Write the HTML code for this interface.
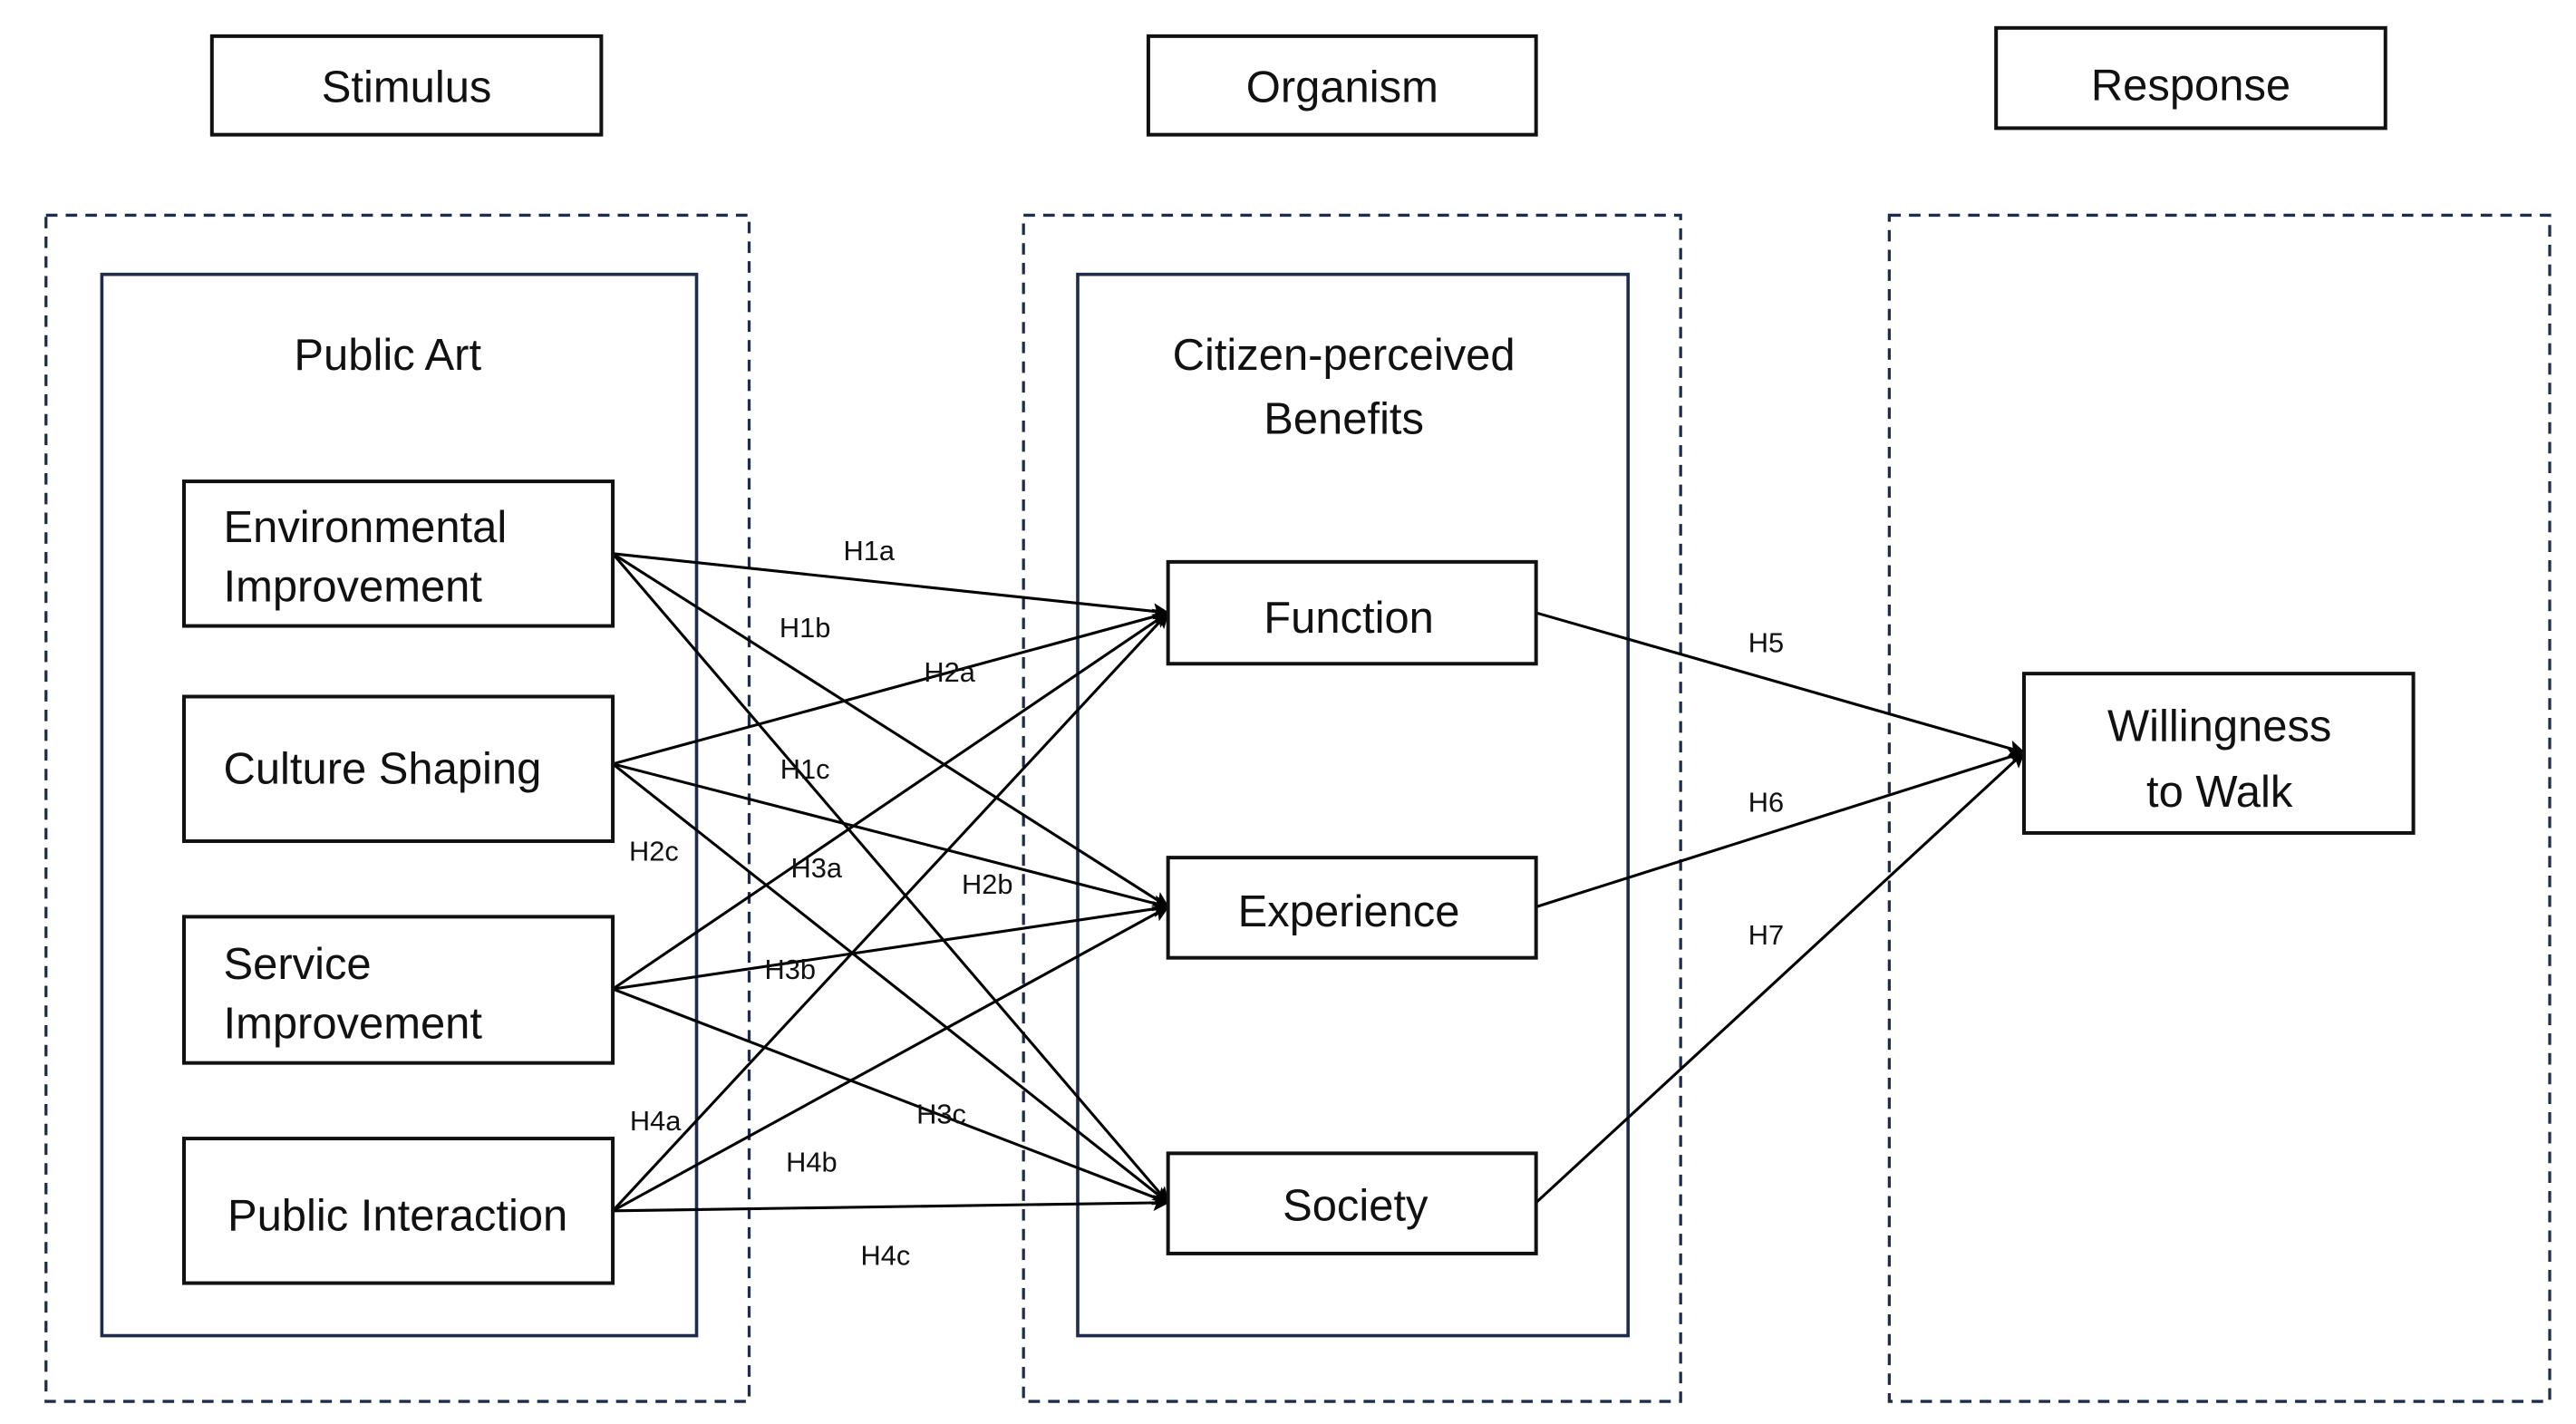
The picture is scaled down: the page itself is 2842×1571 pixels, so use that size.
<!DOCTYPE html>
<html><head><meta charset="utf-8"><style>
html,body{margin:0;padding:0;background:#fff;}
svg{display:block;}
text{font-family:"Liberation Sans","Noto Sans CJK SC",sans-serif;fill:#111;}
.big{font-size:27px;}
.lab{font-size:17px;}
</style></head><body>
<svg width="2842" height="1571" viewBox="0 0 1568 866.76" xmlns="http://www.w3.org/2000/svg">
<defs>
<marker id="ah" markerWidth="10" markerHeight="10" refX="9" refY="5" orient="auto" markerUnits="userSpaceOnUse">
<path d="M0,0 L10,5 L0,10 L2,5 z" fill="#000"/>
</marker>
</defs>
<g fill="none" stroke="#111" stroke-width="2.2">
<rect x="129" y="22" width="237" height="60"/>
<rect x="699" y="22" width="236" height="60"/>
<rect x="1215" y="17" width="237" height="61"/>
</g>
<text class="big" x="247.5" y="62" text-anchor="middle">Stimulus</text>
<text class="big" x="817" y="62" text-anchor="middle">Organism</text>
<text class="big" x="1333.5" y="61" text-anchor="middle">Response</text>

<g fill="none" stroke="#1f2d4d" stroke-width="1.8" stroke-dasharray="7,5">
<rect x="28" y="131" width="428" height="722"/>
<rect x="623" y="131" width="400" height="722"/>
<rect x="1150" y="131" width="402" height="722"/>
</g>
<g fill="none" stroke="#1f2d4d" stroke-width="2">
<rect x="62" y="167" width="362" height="646"/>
<rect x="656" y="167" width="335" height="646"/>
</g>
<text class="big" x="236" y="225" text-anchor="middle">Public Art</text>
<text class="big" x="818" y="225" text-anchor="middle">Citizen-perceived</text>
<text class="big" x="818" y="264" text-anchor="middle">Benefits</text>

<g stroke="#000" stroke-width="1.7" fill="none" marker-end="url(#ah)">
<line x1="373" y1="337" x2="711" y2="373"/>
<line x1="373" y1="337" x2="711" y2="552"/>
<line x1="373" y1="337" x2="711" y2="732"/>
<line x1="373" y1="465" x2="711" y2="373"/>
<line x1="373" y1="465" x2="711" y2="552"/>
<line x1="373" y1="465" x2="711" y2="732"/>
<line x1="373" y1="602" x2="711" y2="373"/>
<line x1="373" y1="602" x2="711" y2="552"/>
<line x1="373" y1="602" x2="711" y2="732"/>
<line x1="373" y1="737" x2="711" y2="373"/>
<line x1="373" y1="737" x2="711" y2="552"/>
<line x1="373" y1="737" x2="711" y2="732"/>
<line x1="935" y1="373" x2="1232" y2="458"/>
<line x1="935" y1="552" x2="1232" y2="458"/>
<line x1="935" y1="732" x2="1232" y2="458"/>
</g>

<g fill="#fff" stroke="#111" stroke-width="2.2">
<rect x="112" y="293" width="261" height="88"/>
<rect x="112" y="424" width="261" height="88"/>
<rect x="112" y="558" width="261" height="89"/>
<rect x="112" y="693" width="261" height="88"/>
<rect x="711" y="342" width="224" height="62"/>
<rect x="711" y="522" width="224" height="61"/>
<rect x="711" y="702" width="224" height="61"/>
<rect x="1232" y="410" width="237" height="97"/>
</g>
<text class="big" x="136" y="330">Environmental</text>
<text class="big" x="136" y="366">Improvement</text>
<text class="big" x="136" y="477">Culture Shaping</text>
<text class="big" x="136" y="596">Service</text>
<text class="big" x="136" y="632">Improvement</text>
<text class="big" x="242" y="749" text-anchor="middle">Public Interaction</text>
<text class="big" x="821" y="385" text-anchor="middle">Function</text>
<text class="big" x="821" y="564" text-anchor="middle">Experience</text>
<text class="big" x="825" y="743" text-anchor="middle">Society</text>
<text class="big" x="1351" y="451" text-anchor="middle">Willingness</text>
<text class="big" x="1351" y="491" text-anchor="middle">to Walk</text>

<g class="lab">
<text class="lab" x="529" y="341" text-anchor="middle">H1a</text>
<text class="lab" x="490" y="388" text-anchor="middle">H1b</text>
<text class="lab" x="578" y="415" text-anchor="middle">H2a</text>
<text class="lab" x="490" y="474" text-anchor="middle">H1c</text>
<text class="lab" x="398" y="524" text-anchor="middle">H2c</text>
<text class="lab" x="497" y="534" text-anchor="middle">H3a</text>
<text class="lab" x="601" y="544" text-anchor="middle">H2b</text>
<text class="lab" x="481" y="596" text-anchor="middle">H3b</text>
<text class="lab" x="399" y="688" text-anchor="middle">H4a</text>
<text class="lab" x="573" y="684" text-anchor="middle">H3c</text>
<text class="lab" x="494" y="713" text-anchor="middle">H4b</text>
<text class="lab" x="539" y="770" text-anchor="middle">H4c</text>
<text class="lab" x="1075" y="397" text-anchor="middle">H5</text>
<text class="lab" x="1075" y="494" text-anchor="middle">H6</text>
<text class="lab" x="1075" y="575" text-anchor="middle">H7</text>
</g>
</svg>
</body></html>
